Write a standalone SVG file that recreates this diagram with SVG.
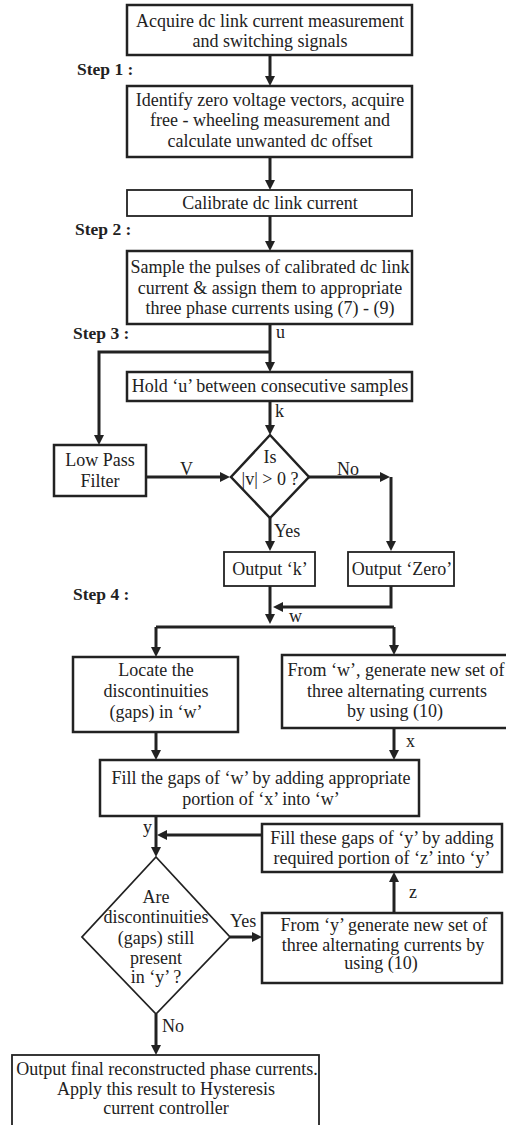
<svg xmlns="http://www.w3.org/2000/svg" width="506" height="1125" viewBox="0 0 506 1125">
<defs>
<style>
.bx{fill:#fff;stroke:#222;stroke-width:2.5}
.bt{fill:#fff;stroke:#222;stroke-width:1.8}
.t{font-family:"Liberation Serif","Times New Roman",serif;font-size:18px;fill:#222;text-anchor:middle}
.l{font-family:"Liberation Serif","Times New Roman",serif;font-size:18px;fill:#222}
.s{font-family:"Liberation Serif","Times New Roman",serif;font-size:17.5px;font-weight:bold;fill:#222}
.c{fill:none;stroke:#222;stroke-width:3}
.ca{fill:none;stroke:#222;stroke-width:3;marker-end:url(#ah)}
</style>
<marker id="ah" viewBox="0 0 10 10" refX="3" refY="5" markerWidth="10" markerHeight="10" markerUnits="userSpaceOnUse" orient="auto">
<path d="M0,0 L10,5 L0,10 z" fill="#222"/>
</marker>
</defs>
<rect width="506" height="1125" fill="#fff"/>

<g id="connectors">
<path class="ca" d="M270,55 V79"/>
<path class="ca" d="M270,157 V183"/>
<path class="ca" d="M270,216 V244"/>
<path class="ca" d="M270,324 V365"/>
<path class="ca" d="M270,352 H99 V438"/>
<path class="ca" d="M270,401 V428"/>
<path class="ca" d="M146,477 H223"/>
<path class="ca" d="M309,477 H383"/>
<path class="ca" d="M391,477 V544"/>
<path class="ca" d="M270,518 V544"/>
<path class="ca" d="M270,586 V617"/>
<path class="ca" d="M391,586 V607 H280"/>
<path class="c" d="M156,627 H394"/>
<path class="ca" d="M156,627 V650"/>
<path class="ca" d="M394,627 V648"/>
<path class="ca" d="M156,732 V753"/>
<path class="ca" d="M394,728 V753"/>
<path class="ca" d="M156,816 V850"/>
<path class="ca" d="M262,835 H164"/>
<path class="ca" d="M394,913 V879"/>
<path class="ca" d="M230,937 H255"/>
<path class="ca" d="M156,1014 V1048"/>
<text class="l" x="276" y="338">u</text>
<text class="l" x="275" y="417">k</text>
<text class="l" x="180" y="475">V</text>
<text class="l" x="337" y="475">No</text>
<text class="l" x="274" y="537">Yes</text>
<text class="l" x="289" y="622">w</text>
<text class="l" x="406" y="747">x</text>
<text class="l" x="143" y="833">y</text>
<text class="l" x="409" y="898">z</text>
<text class="l" x="230" y="927">Yes</text>
<text class="l" x="162" y="1032">No</text>
</g>

<g id="steps">
<text class="s" x="77" y="75">Step 1 :</text>
<text class="s" x="75" y="235">Step 2 :</text>
<text class="s" x="73" y="339">Step 3 :</text>
<text class="s" x="73" y="600">Step 4 :</text>
</g>

<g id="n1">
<rect class="bx" x="127" y="5" width="285" height="50"/>
<text class="t" x="270" y="27">Acquire dc link current measurement</text>
<text class="t" x="270" y="47">and switching signals</text>
</g>
<g id="n2">
<rect class="bx" x="127" y="86" width="285" height="71"/>
<text class="t" x="270" y="105.5">Identify zero voltage vectors, acquire</text>
<text class="t" x="270" y="126">free - wheeling measurement and</text>
<text class="t" x="270" y="147">calculate unwanted dc offset</text>
</g>
<g id="n3">
<rect class="bt" x="127" y="190" width="285" height="26"/>
<text class="t" x="270" y="208.5">Calibrate dc link current</text>
</g>
<g id="n4">
<rect class="bx" x="127" y="251" width="285" height="73"/>
<text class="t" x="270" y="273">Sample the pulses of calibrated dc link</text>
<text class="t" x="270" y="294">current &amp; assign them to appropriate</text>
<text class="t" x="270" y="314">three phase currents using (7) - (9)</text>
</g>
<g id="n5">
<rect class="bx" x="127" y="372" width="285" height="29"/>
<text class="t" x="270" y="392">Hold ‘u’ between consecutive samples</text>
</g>
<g id="n6">
<rect class="bx" x="54" y="445" width="92" height="51"/>
<text class="t" x="100" y="466">Low Pass</text>
<text class="t" x="100" y="487">Filter</text>
</g>
<g id="d1">
<polygon class="bx" points="270,435 309,477 270,518 231,477"/>
<text class="t" x="270" y="463">Is</text>
<text class="t" x="270" y="485">|v| &gt; 0 ?</text>
</g>
<g id="n7">
<rect class="bt" x="224" y="552" width="91" height="34"/>
<text class="t" x="270" y="575">Output ‘k’</text>
</g>
<g id="n8">
<rect class="bt" x="348" y="552" width="106" height="34"/>
<text class="t" x="402" y="575">Output ‘Zero’</text>
</g>
<g id="n9">
<rect class="bx" x="73" y="657" width="165" height="75"/>
<text class="t" x="156" y="676">Locate the</text>
<text class="t" x="156" y="697">discontinuities</text>
<text class="t" x="156" y="718">(gaps) in ‘w’</text>
</g>
<g id="n10">
<rect class="bx" x="282" y="655" width="226" height="73"/>
<text class="t" x="396" y="676">From ‘w’, generate new set of</text>
<text class="t" x="397" y="697">three alternating currents</text>
<text class="t" x="395" y="717">by using (10)</text>
</g>
<g id="n11">
<rect class="bx" x="100" y="760" width="319" height="56"/>
<text class="t" x="261" y="784">Fill the gaps of ‘w’ by adding appropriate</text>
<text class="t" x="261" y="804.5">portion of ‘x’ into ‘w’</text>
</g>
<g id="n12">
<rect class="bx" x="262" y="824" width="240" height="48"/>
<text class="t" x="382" y="843.5">Fill these gaps of ‘y’ by adding</text>
<text class="t" x="382" y="863.5">required portion of ‘z’ into ‘y’</text>
</g>
<g id="n13">
<rect class="bx" x="262" y="913" width="240" height="70"/>
<text class="t" x="384" y="930.5">From ‘y’ generate new set of</text>
<text class="t" x="383" y="950.5">three alternating currents by</text>
<text class="t" x="381" y="969">using (10)</text>
</g>
<g id="d2">
<polygon class="bt" points="156,857 230,937 156,1014 82,937"/>
<text class="t" x="156" y="902.5">Are</text>
<text class="t" x="156" y="923">discontinuities</text>
<text class="t" x="156" y="943.5">(gaps) still</text>
<text class="t" x="156" y="964">present</text>
<text class="t" x="156" y="983">in ‘y’ ?</text>
</g>
<g id="n14">
<rect class="bt" x="12" y="1055" width="307" height="85"/>
<text class="t" x="167" y="1075">Output final reconstructed phase currents.</text>
<text class="t" x="166" y="1094.5">Apply this result to Hysteresis</text>
<text class="t" x="166" y="1114">current controller</text>
</g>
</svg>
